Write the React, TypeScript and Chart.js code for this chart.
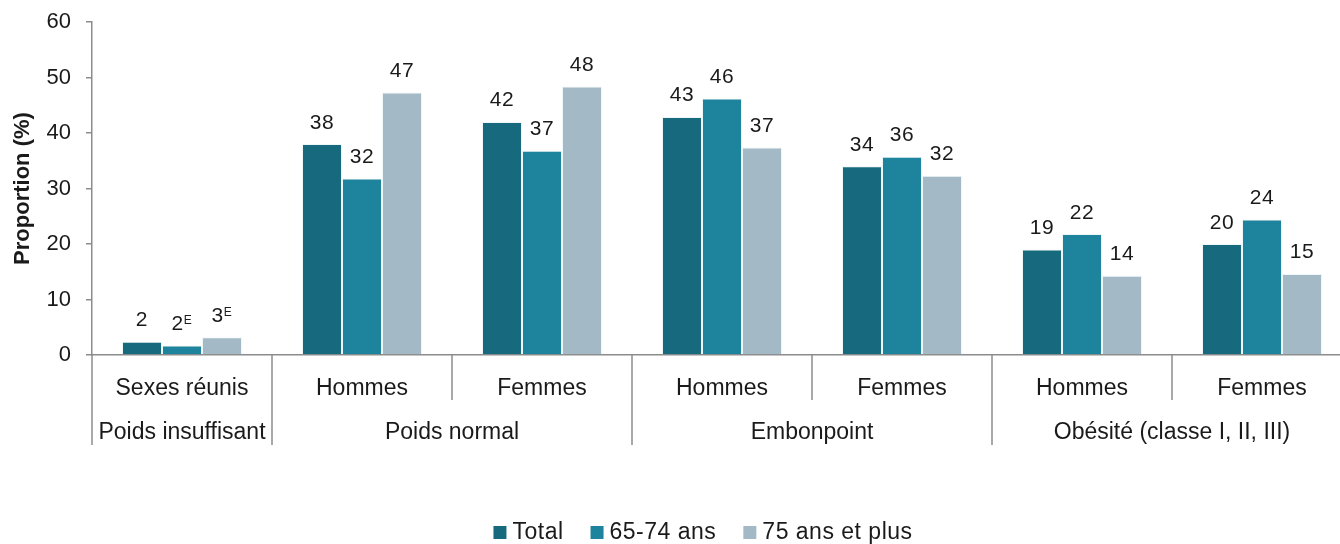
import React, { useEffect, useRef } from 'react';
import { Chart, registerables } from 'chart.js';

Chart.register(...registerables);

// ---- data ----
const categories = ['Sexes réunis', 'Hommes', 'Femmes', 'Hommes', 'Femmes', 'Hommes', 'Femmes'];
const groupLabels = ['Poids insuffisant', 'Poids normal', 'Embonpoint', 'Obésité (classe I, II, III)'];
const groupSizes = [1, 2, 2, 2];
const seriesNames = ['Total', '65-74 ans', '75 ans et plus'];
const totalValues = [2.4, 38.0, 42.0, 42.9, 34.0, 19.0, 20.0];
const age6574Values = [1.7, 31.8, 36.8, 46.2, 35.7, 21.8, 24.4];
const age75PlusValues = [3.2, 47.3, 48.4, 37.4, 32.3, 14.3, 14.6];
// "E" = estimation à interpréter avec prudence
const totalFlags = ['', '', '', '', '', '', ''];
const age6574Flags = ['E', '', '', '', '', '', ''];
const age75PlusFlags = ['E', '', '', '', '', '', ''];
const yMin = 0;
const yMax = 60;
const yStep = 10;
const yTitle = 'Proportion (%)';

const seriesColors = ['#176a7e', '#1e839c', '#a3bac6'];

export default function App() {
  const ref = useRef<HTMLCanvasElement>(null);

  useEffect(() => {
    const canvas = ref.current;
    if (!canvas) return;
    const FONT = "'Liberation Sans', Arial, Helvetica, sans-serif";
    const TEXT = '#1a1a1a';
    const AXIS = '#8c8c8c';
    const flags = [totalFlags, age6574Flags, age75PlusFlags];

    const ls = (chart: any, v: string) => {
      (chart.ctx as any).letterSpacing = v;
    };

    const decor = {
      id: 'decor',
      beforeInit: (c: any) => ls(c, '0px'),
      beforeUpdate: (c: any) => ls(c, '0px'),
      beforeDraw: (c: any) => ls(c, '0px'),
      afterDatasetsDraw(chart: any) {
        const ctx = chart.ctx;
        ctx.save();
        ctx.fillStyle = TEXT;
        (ctx as any).letterSpacing = '0.6px';
        chart.data.datasets.forEach((ds: any, di: number) => {
          const meta = chart.getDatasetMeta(di);
          meta.data.forEach((bar: any, i: number) => {
            const v = ds.data[i] as number;
            const main = String(Math.round(v));
            const sup = flags[di][i];
            const cy = bar.y - 23;
            ctx.font = `21px ${FONT}`;
            const w = ctx.measureText(main).width;
            ctx.font = `12px ${FONT}`;
            const ws = sup ? ctx.measureText(sup).width : 0;
            const x0 = bar.x - (w + ws) / 2;
            ctx.textAlign = 'left';
            ctx.textBaseline = 'alphabetic';
            ctx.font = `21px ${FONT}`;
            ctx.fillText(main, x0, cy + 7.5);
            if (sup) {
              ctx.font = `12px ${FONT}`;
              ctx.fillText(sup, x0 + w, cy + 1.5);
            }
          });
        });
        ctx.restore();
        // y axis (z: 1) is drawn after this point
        ls(chart, '1px');
      },
      afterDraw(chart: any) {
        const ctx = chart.ctx;
        const xs = chart.scales.x;
        const area = chart.chartArea;
        const n = categories.length;
        const half = (xs.getPixelForValue(1) - xs.getPixelForValue(0)) / 2;
        const edge = (i: number) => xs.getPixelForValue(i) - half;
        const starts: number[] = [];
        let s = 0;
        groupSizes.forEach((g) => {
          starts.push(s);
          s += g;
        });
        ctx.save();
        (ctx as any).letterSpacing = '0px';
        ctx.strokeStyle = AXIS;
        ctx.lineWidth = 1.5;
        for (let i = 0; i <= n; i++) {
          const px = edge(i);
          const long = starts.includes(i) || i === n;
          ctx.beginPath();
          ctx.moveTo(px, area.bottom);
          ctx.lineTo(px, area.bottom + (long ? 90 : 45));
          ctx.stroke();
        }
        ctx.font = `23px ${FONT}`;
        ctx.fillStyle = TEXT;
        ctx.textAlign = 'center';
        ctx.textBaseline = 'middle';
        groupLabels.forEach((g, k) => {
          const a = edge(starts[k]);
          const b = edge(starts[k] + groupSizes[k]);
          ctx.fillText(g, (a + b) / 2, area.bottom + 78);
        });

        // legend
        (ctx as any).letterSpacing = '0.5px';
        const box = 13;
        const gap = 6;
        const spacing = 27;
        const widths = seriesNames.map((t) => ctx.measureText(t).width);
        const total = widths.reduce((acc, w) => acc + box + gap + w, 0) + spacing * (seriesNames.length - 1);
        const centerX = 703;
        const cy = 532;
        let x = centerX - total / 2;
        ctx.textAlign = 'left';
        seriesNames.forEach((t, i) => {
          ctx.fillStyle = seriesColors[i];
          ctx.fillRect(x, cy - 6, box, box);
          ctx.fillStyle = TEXT;
          ctx.fillText(t, x + box + gap, cy + 1);
          x += box + gap + widths[i] + spacing;
        });
        ctx.restore();
      },
    };

    const chart = new Chart(canvas, {
      type: 'bar',
      data: {
        labels: categories,
        datasets: [totalValues, age6574Values, age75PlusValues].map((vals, i) => ({
          label: seriesNames[i],
          data: vals,
          backgroundColor: seriesColors[i],
          borderColor: 'rgba(225,238,243,0.55)',
          borderWidth: 1,
          categoryPercentage: 2 / 3,
          barPercentage: 1,
        })),
      },
      options: {
        responsive: false,
        animation: false,
        devicePixelRatio: 1,
        events: [],
        layout: { padding: { left: 0, right: 8, top: 22, bottom: 0 } },
        plugins: {
          legend: { display: false },
          tooltip: { enabled: false },
        },
        scales: {
          x: {
            grid: { display: false },
            border: { display: true, color: AXIS, width: 1.5 },
            ticks: {
              font: { family: FONT, size: 23 },
              color: TEXT,
              padding: 12,
              maxRotation: 0,
              autoSkip: false,
            },
            afterFit(scale: any) {
              scale.height = 189;
              scale.paddingLeft = 0;
              scale.paddingRight = 0;
            },
          },
          y: {
            min: yMin,
            max: yMax,
            z: 1,
            grid: { drawOnChartArea: false, drawTicks: true, tickLength: 6, color: AXIS, lineWidth: 1.5 },
            border: { display: true, color: AXIS, width: 1.5 },
            ticks: {
              stepSize: yStep,
              font: { family: FONT, size: 22 },
              color: TEXT,
              padding: 15,
            },
            title: {
              display: true,
              text: yTitle,
              font: { family: FONT, size: 22, weight: 'bold' },
              color: TEXT,
              padding: { top: 10, bottom: 0 },
            },
            afterFit(scale: any) {
              scale.width = 92;
              scale.paddingTop = 0;
              scale.paddingBottom = 0;
            },
          },
        },
      },
      plugins: [decor],
    } as any);

    return () => chart.destroy();
  }, []);

  return (
    <div
      style={{
        position: 'fixed',
        left: 0,
        top: 0,
        width: 1340,
        height: 544,
        overflow: 'hidden',
        background: '#fff',
      }}
    >
      <canvas ref={ref} width={1360} height={544} style={{ display: 'block', width: 1360, height: 544 }} />
    </div>
  );
}
